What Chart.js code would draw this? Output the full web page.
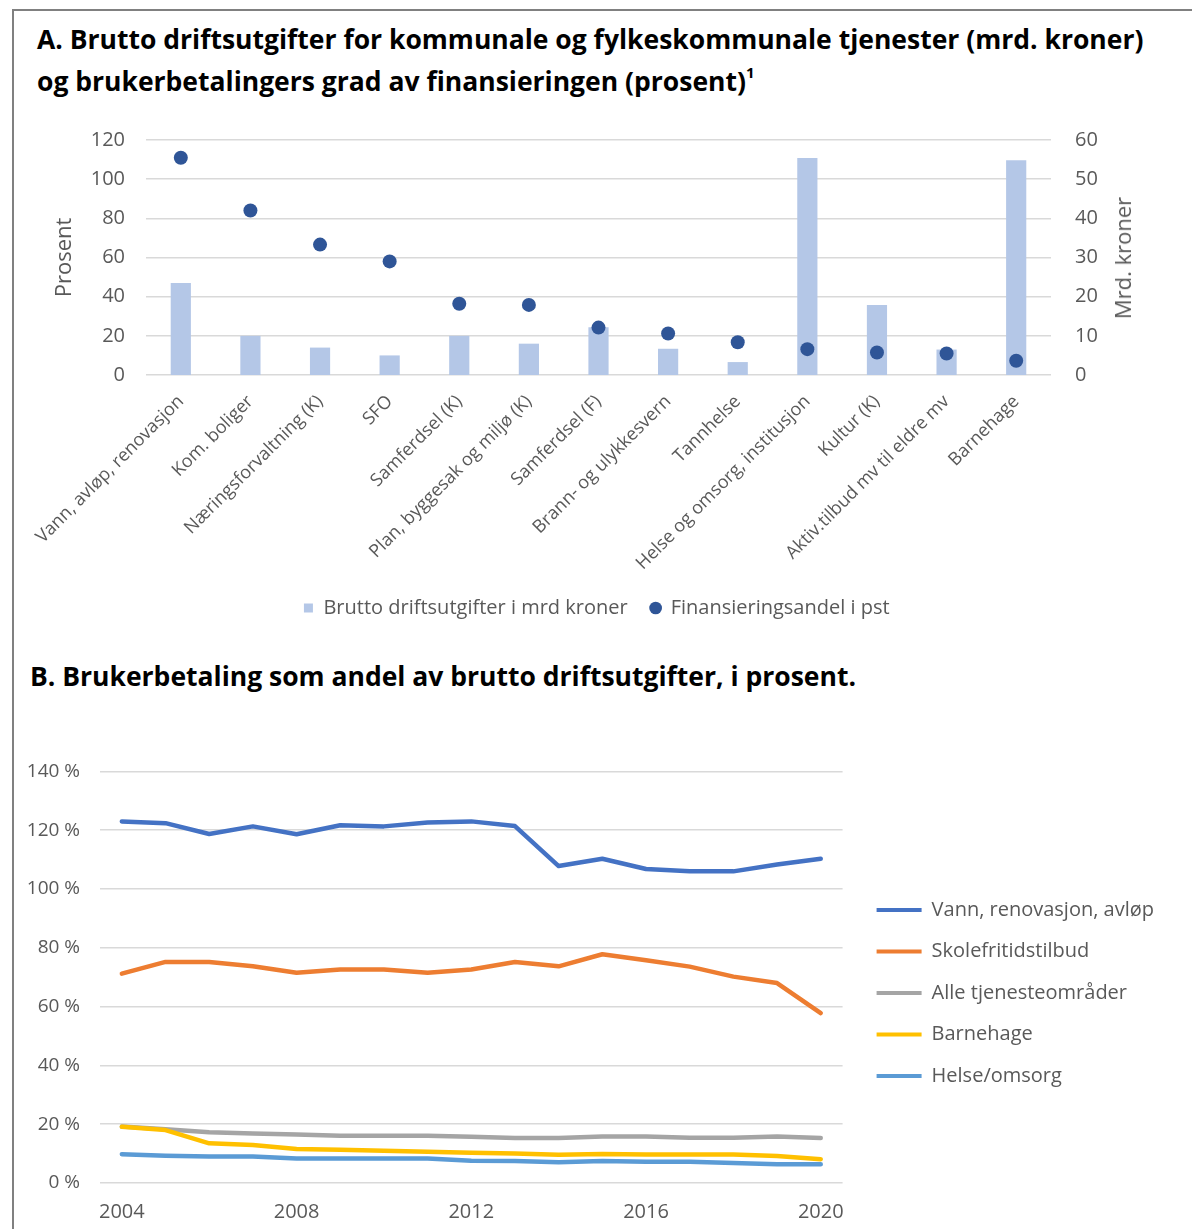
<!DOCTYPE html>
<html lang="no">
<head>
<meta charset="utf-8">
<title>Brukerbetaling</title>
<script src="https://cdn.jsdelivr.net/npm/chart.js@4.4.1/dist/chart.umd.min.js"></script>
<style>
  body {
    margin: 0;
    width: 1192px;
    height: 1229px;
    position: relative;
    overflow: hidden;
    background: #fff;
    font-family: "Open Sans", sans-serif;
  }
  .ramme {
    position: absolute;
    left: 12px;
    top: 9px;
    right: 0;
    bottom: 0;
    border-top: 2px solid #808080;
    border-left: 2px solid #808080;
  }
  h2 {
    position: absolute;
    margin: 0;
    font-weight: 700;
    color: #000;
    white-space: nowrap;
  }
  #tittelA { left: 37px; top: 21px; font-size: 26.5px; line-height: 36px; }
  #tittelB { left: 30px; top: 658px; font-size: 26.5px; line-height: 36px; }
  sup { font-size: 15px; position: relative; top: -3px; }
  canvas { position: absolute; }
  #mrdKroner {
    position: absolute;
    left: 1122px;
    top: 258px;
    transform: translate(-50%, -50%) rotate(-90deg);
    white-space: nowrap;
    font-size: 22px;
    color: #595959;
  }
</style>
</head>
<body>
<div class="ramme"></div>
<h2 id="tittelA">A. Brutto driftsutgifter for kommunale og fylkeskommunale tjenester (mrd. kroner)<br>og brukerbetalingers grad av finansieringen (prosent)<sup>1</sup></h2>
<canvas id="grafA" width="1178" height="527" style="left:14px; top:104px;"></canvas>
<div id="mrdKroner">Mrd. kroner</div>
<h2 id="tittelB">B. Brukerbetaling som andel av brutto driftsutgifter, i prosent.</h2>
<canvas id="grafB" width="1178" height="489" style="left:14px; top:740px;"></canvas>

<script>
// figur A: kategorier og verdier
const kategorier = [
  "Vann, avløp, renovasjon",
  "Kom. boliger",
  "Næringsforvaltning (K)",
  "SFO",
  "Samferdsel (K)",
  "Plan, byggesak og miljø (K)",
  "Samferdsel (F)",
  "Brann- og ulykkesvern",
  "Tannhelse",
  "Helse og omsorg, institusjon",
  "Kultur (K)",
  "Aktiv.tilbud mv til eldre mv",
  "Barnehage"
];
const bruttoMrd = [23.5, 10, 7, 5, 10, 8, 12.2, 6.7, 3.3, 55.4, 17.9, 6.5, 54.8];
const finansieringPst = [110.9, 84, 66.6, 58, 36.4, 35.8, 24.2, 21.2, 16.7, 13.2, 11.5, 11.0, 7.3];

// figur B: år og serier
const aar = ["2004", "2005", "2006", "2007", "2008", "2009", "2010", "2011", "2012",
  "2013", "2014", "2015", "2016", "2017", "2018", "2019", "2020"];
const aarEtiketter = ["2004", "2008", "2012", "2016", "2020"];
const vann = [123.0, 122.4, 118.7, 121.3, 118.6, 121.7, 121.3, 122.6, 123.0, 121.4, 107.8, 110.3, 106.8, 106.0, 106.0, 108.3, 110.3];
const skolefritid = [71.2, 75.2, 75.2, 73.7, 71.5, 72.6, 72.6, 71.5, 72.6, 75.2, 73.7, 77.8, 75.8, 73.6, 70.2, 68.0, 57.8];
const alleOmraader = [19.2, 18.3, 17.3, 16.8, 16.5, 16.1, 16.1, 16.1, 15.7, 15.3, 15.3, 15.8, 15.8, 15.4, 15.4, 15.8, 15.3];
const barnehage = [19.1, 18.0, 13.5, 12.9, 11.6, 11.3, 11.0, 10.6, 10.3, 10.0, 9.6, 9.9, 9.7, 9.7, 9.7, 9.2, 8.1];
const helseOmsorg = [9.8, 9.3, 9.0, 9.0, 8.3, 8.3, 8.3, 8.3, 7.6, 7.5, 7.1, 7.5, 7.2, 7.2, 6.8, 6.4, 6.4];

const gra = "#595959";
const gridFarge = "#D9D9D9";
Chart.defaults.font.family = "'Open Sans', sans-serif";

const etterIndeks = (a, b) => a.datasetIndex - b.datasetIndex;

// toppen av plottet styres av tick-padding på høyre akse, derfor lav padding her
new Chart(document.getElementById("grafA"), {
  type: "bar",
  data: {
    labels: kategorier,
    datasets: [
      {
        type: "bar",
        label: "Brutto driftsutgifter i mrd kroner",
        data: bruttoMrd,
        yAxisID: "y1",
        backgroundColor: "#B4C7E7",
        barPercentage: 0.29,
        categoryPercentage: 1,
        pointStyle: "rect",
        order: 1
      },
      {
        type: "line",
        label: "Finansieringsandel i pst",
        data: finansieringPst,
        yAxisID: "y",
        showLine: false,
        pointRadius: 7,
        pointStyle: "circle",
        pointBorderWidth: 0,
        pointBackgroundColor: "#2F5597",
        backgroundColor: "#2F5597",
        borderColor: "#2F5597",
        order: 0
      }
    ]
  },
  options: {
    responsive: false,
    animation: false,
    layout: { padding: { top: 20, bottom: 3, left: 0, right: 13 } },
    plugins: {
      legend: {
        position: "bottom",
        labels: {
          usePointStyle: true,
          boxWidth: 10,
          boxHeight: 9,
          padding: 23,
          color: gra,
          font: { size: 20 },
          sort: etterIndeks
        }
      },
      tooltip: { enabled: false }
    },
    scales: {
      x: {
        grid: { display: false, drawTicks: false },
        border: { display: false },
        ticks: {
          color: gra,
          font: { size: 18 },
          minRotation: 45,
          maxRotation: 45,
          autoSkip: false,
          padding: 16
        },
        afterFit: (s) => { s.height = 200; }
      },
      y: {
        position: "left",
        min: 0,
        max: 120,
        ticks: { stepSize: 20, padding: 21, color: gra, font: { size: 20 } },
        grid: { color: gridFarge, lineWidth: 1.5, drawTicks: false },
        border: { display: false },
        title: {
          display: true,
          text: "Prosent",
          color: gra,
          font: { size: 22 },
          padding: { top: 38, bottom: 0 }
        },
        afterFit: (s) => { s.width = 132; }
      },
      y1: {
        position: "right",
        min: 0,
        max: 60,
        ticks: { stepSize: 10, padding: 24, color: gra, font: { size: 20 } },
        grid: { display: false, drawTicks: false },
        border: { display: false },
        afterFit: (s) => { s.width = 128; }
      }
    }
  }
});

function linje(label, data, farge, orden) {
  return {
    label: label,
    data: data,
    borderColor: farge,
    backgroundColor: farge,
    borderWidth: 4.5,
    pointRadius: 0,
    tension: 0,
    borderCapStyle: "round",
    borderJoinStyle: "round",
    order: orden
  };
}

new Chart(document.getElementById("grafB"), {
  type: "line",
  data: {
    labels: aar,
    datasets: [
      linje("Vann, renovasjon, avløp", vann, "#4472C4", 0),
      linje("Skolefritidstilbud", skolefritid, "#ED7D31", 0),
      linje("Alle tjenesteområder", alleOmraader, "#A5A5A5", 1),
      linje("Barnehage", barnehage, "#FFC000", 0),
      linje("Helse/omsorg", helseOmsorg, "#5B9BD5", 0)
    ]
  },
  options: {
    responsive: false,
    animation: false,
    layout: { padding: { top: 17, bottom: 0, left: 0, right: 28 } },
    plugins: {
      legend: {
        position: "right",
        maxWidth: 400,
        labels: {
          boxWidth: 45,
          boxHeight: 4,
          padding: 21.5,
          color: gra,
          font: { size: 20 },
          sort: etterIndeks,
          generateLabels: (chart) =>
            Chart.defaults.plugins.legend.labels.generateLabels(chart).map((l) => {
              l.lineWidth = 0;
              return l;
            })
        }
      },
      tooltip: { enabled: false }
    },
    scales: {
      x: {
        offset: true,
        grid: { display: false, drawTicks: false },
        border: { display: false },
        ticks: {
          autoSkip: false,
          maxRotation: 0,
          padding: 17,
          color: gra,
          font: { size: 20 },
          callback: function (v) {
            const l = this.getLabelForValue(v);
            return aarEtiketter.includes(l) ? l : "";
          }
        },
        afterFit: (s) => { s.height = 46; }
      },
      y: {
        min: 0,
        max: 140,
        ticks: {
          stepSize: 20,
          padding: 20,
          color: gra,
          font: { size: 19 },
          callback: (v) => v + " %"
        },
        grid: { color: gridFarge, lineWidth: 1.5, drawTicks: false },
        border: { display: false },
        afterFit: (s) => { s.width = 86; }
      },
      // tom akse som gir luft mellom plottet og forklaringen
      y1: {
        position: "right",
        display: true,
        grid: { display: false, drawTicks: false },
        border: { display: false },
        ticks: { display: false },
        afterFit: (s) => { s.width = 12.5; }
      }
    }
  }
});
</script>
</body>
</html>
